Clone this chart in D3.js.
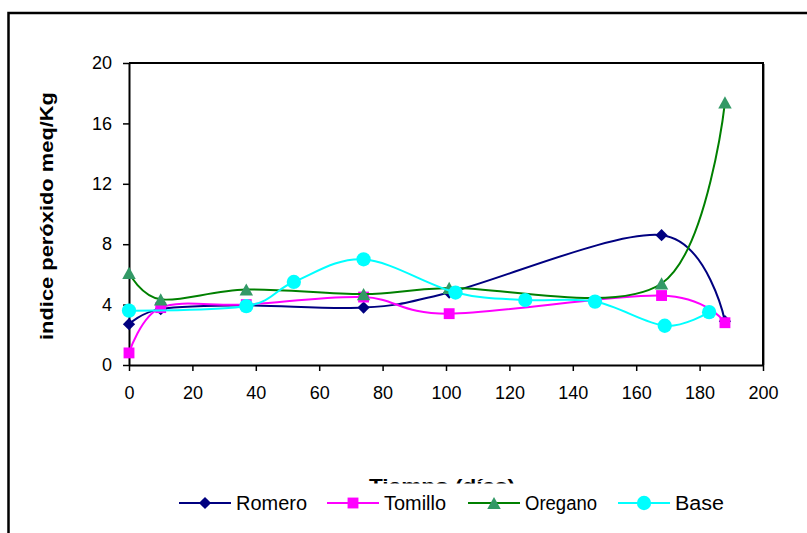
<!DOCTYPE html>
<html>
<head>
<meta charset="utf-8">
<script src="https://cdn.jsdelivr.net/npm/d3@7"></script>
<style>
  html, body { margin: 0; padding: 0; background: #fff; }
  svg { display: block; }
  text { font-family: "Liberation Sans", Arial, sans-serif; fill: #000; }
</style>
</head>
<body>
<svg id="chart" width="807" height="533"></svg>
<script>
// Storage time (days) for the three herb-treated samples
const daysHerbs = [0, 10, 37, 74, 101, 168, 188];
// Storage time (days) for the control sample
const daysBase = [0, 37, 52, 74, 103, 125, 147, 169, 183];

// Peroxide index, meq/Kg
const romero  = [2.7, 3.7, 3.95, 3.8, 4.8, 8.6, 2.9];
const tomillo = [0.8, 3.8, 4.0, 4.5, 3.4, 4.6, 2.8];
const oregano = [6.1, 4.35, 5.0, 4.7, 5.1, 5.4, 17.4];
const base    = [3.6, 3.9, 5.5, 7.0, 4.8, 4.3, 4.2, 2.6, 3.5];

const seriesNames = ["Romero", "Tomillo", "Oregano", "Base"];
const xTicks = [0, 20, 40, 60, 80, 100, 120, 140, 160, 180, 200];
const yTicks = [0, 4, 8, 12, 16, 20];

const xTitle = "Tiempo (días)";
const yTitle = "indice peróxido meq/Kg";

// Custom marker shapes
const diamondShape = {
  draw(ctx, size) {
    const r = Math.sqrt(size) / 2;
    ctx.moveTo(0, -r); ctx.lineTo(r, 0); ctx.lineTo(0, r); ctx.lineTo(-r, 0); ctx.closePath();
  }
};
const triangleShape = {
  draw(ctx, size) {
    const h = Math.sqrt(size) / 2;
    ctx.moveTo(0, -h); ctx.lineTo(h * 1.1, h); ctx.lineTo(-h * 1.1, h); ctx.closePath();
  }
};

const series = [
  { name: seriesNames[0], xs: daysHerbs, ys: romero,  line: "#000080", fill: "#000080", shape: diamondShape,      size: 150 },
  { name: seriesNames[1], xs: daysHerbs, ys: tomillo, line: "#FF00FF", fill: "#FF00FF", shape: d3.symbolSquare,   size: 118 },
  { name: seriesNames[2], xs: daysHerbs, ys: oregano, line: "#008000", fill: "#339966", shape: triangleShape,     size: 150 },
  { name: seriesNames[3], xs: daysBase,  ys: base,    line: "#00FFFF", fill: "#00FFFF", shape: d3.symbolCircle,   size: 160 }
];

const svg = d3.select("#chart");

// Outer chart frame
svg.append("path")
  .attr("d", "M8.5,540 L8.5,13 L820,13")
  .attr("fill", "none").attr("stroke", "#000").attr("stroke-width", 2.5);

const x = d3.scaleLinear().domain([0, 200]).range([129, 763]);
const y = d3.scaleLinear().domain([0, 20]).range([365, 63]);

// Plot area border (top and right)
svg.append("path")
  .attr("d", `M${x(0)},${y(20)} L${x(200)},${y(20)} L${x(200)},${y(0)}`)
  .attr("fill", "none").attr("stroke", "#000").attr("stroke-width", 2);
svg.append("line")
  .attr("x1", x(200) + 1.5).attr("x2", x(200) + 1.5)
  .attr("y1", y(20) + 1).attr("y2", y(0))
  .attr("stroke", "#999").attr("stroke-width", 1);

// Axes
const gx = svg.append("g")
  .attr("transform", `translate(0,${y(0)})`)
  .call(d3.axisBottom(x).tickValues(xTicks).tickSize(6).tickSizeOuter(0).tickPadding(15.5));
const gy = svg.append("g")
  .attr("transform", `translate(${x(0)},0)`)
  .call(d3.axisLeft(y).tickValues(yTicks).tickSize(6).tickSizeOuter(0).tickPadding(11));

[gx, gy].forEach(g => {
  g.select(".domain").attr("stroke", "#000").attr("stroke-width", 2);
  g.selectAll(".tick line").attr("stroke", "#000").attr("stroke-width", 1.5);
  g.selectAll(".tick text")
    .attr("font-family", "'Liberation Sans', Arial, sans-serif")
    .attr("font-size", 18).attr("fill", "#000");
});

// Axis titles
svg.append("text")
  .attr("transform", "translate(53,216) rotate(-90)")
  .attr("text-anchor", "middle")
  .attr("font-size", 19).attr("font-weight", "bold")
  .attr("textLength", 248).attr("lengthAdjust", "spacingAndGlyphs")
  .text(yTitle);

svg.append("text")
  .attr("x", 442).attr("y", 492)
  .attr("text-anchor", "middle")
  .attr("font-size", 19).attr("font-weight", "bold")
  .attr("textLength", 146).attr("lengthAdjust", "spacingAndGlyphs")
  .text(xTitle);

// Smoothed series lines with markers
const lineGen = d3.line().curve(d3.curveCatmullRom.alpha(0));

series.forEach(s => {
  const pts = s.xs.map((d, i) => [x(d), y(s.ys[i])]);
  const g = svg.append("g");
  g.append("path")
    .attr("d", lineGen(pts))
    .attr("fill", "none").attr("stroke", s.line).attr("stroke-width", 2);
  g.selectAll("path.m").data(pts).join("path")
    .attr("class", "m")
    .attr("transform", p => `translate(${p[0]},${p[1]})`)
    .attr("d", d3.symbol().type(s.shape).size(s.size))
    .attr("fill", s.fill);
});

// Legend (its white box sits over the lower part of the x-axis title)
const legend = svg.append("g");
legend.append("rect")
  .attr("x", 172).attr("y", 483.5).attr("width", 556).attr("height", 37)
  .attr("fill", "#fff");

const legendX = [179, 327, 468, 618];
const legendTextLen = [71, 62, 72, 49];
const legendY = 503;
series.forEach((s, i) => {
  const lx = legendX[i];
  legend.append("line")
    .attr("x1", lx).attr("x2", lx + 52)
    .attr("y1", legendY).attr("y2", legendY)
    .attr("stroke", s.line).attr("stroke-width", 2);
  legend.append("path")
    .attr("transform", `translate(${lx + 26},${legendY})`)
    .attr("d", d3.symbol().type(s.shape).size(s.size))
    .attr("fill", s.fill);
  legend.append("text")
    .attr("x", lx + 57).attr("y", legendY + 7)
    .attr("font-size", 19.5)
    .attr("textLength", legendTextLen[i]).attr("lengthAdjust", "spacingAndGlyphs")
    .text(s.name);
});
</script>
</body>
</html>
